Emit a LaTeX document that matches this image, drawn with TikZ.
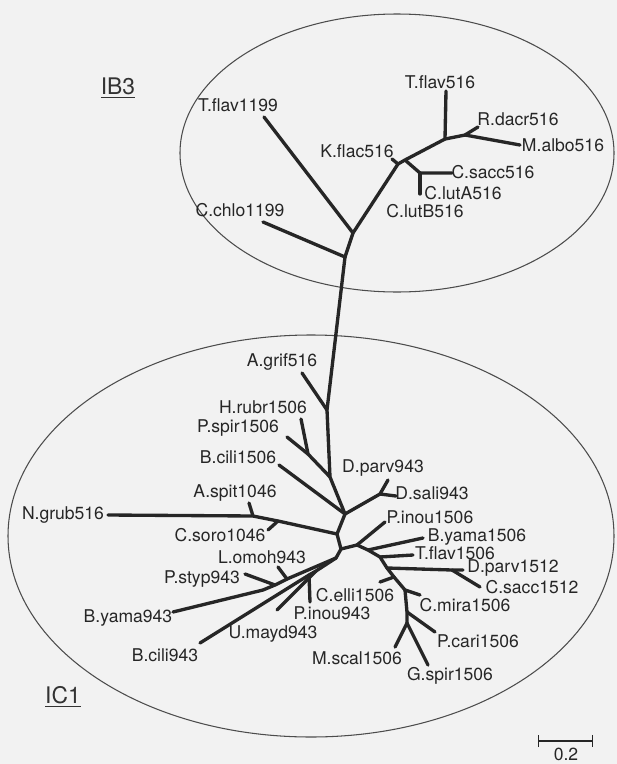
\documentclass[tikz,border=0pt]{standalone}
\usepackage{fontspec}
\setmainfont{TeX Gyre Heros}
\usetikzlibrary{arrows.meta}
\tikzset{
  partial ellipse/.style args={#1:#2:#3}{
    insert path={+ (#1:#3) arc (#1:#2:#3)}
  },
  branch/.style={line width=1.9pt, line cap=round, line join=round, black!85},
  taxon/.style={font=\fontsize{10}{12}\selectfont, inner sep=0pt, black!85},
  clade/.style={font=\fontsize{13}{15}\selectfont, inner sep=0pt, black!80},
  rim/.style={black!70, line width=0.6pt}
}

\begin{document}
\begin{tikzpicture}[x=0.02cm, y=-0.02cm]
\fill[black!5] (0,0) rectangle (617,764);
\useasboundingbox (0,0) rectangle (617,764);
\draw[rim] (397,153) [partial ellipse=0:360:217 and 139];
\draw[rim] (311,536) [partial ellipse=0:360:303 and 201];
\node[clade] (ib3) at (118,88) {\underline{IB3}};
\node[clade] (ic1) at (63,697) {\underline{IC1}};
% IB3 part
\coordinate (n1) at (345,257);
\coordinate (n2) at (353,233);
\coordinate (n3) at (398,164);
\coordinate (n4) at (405,160);
\coordinate (n5) at (420,173);
\coordinate (n6) at (445,139);
\coordinate (n7) at (465,135);
\coordinate (tChlo) at (263,222);
\coordinate (tTfl1199) at (264,117);
\coordinate (tKfla) at (392,159);
\coordinate (tCsac516) at (452,173);
\coordinate (tClut) at (420,194);
\coordinate (tTfl516) at (446,91);
\coordinate (tRdac) at (478,127);
\coordinate (tMalb) at (520,145);
\draw[branch] (tChlo) -- (n1);
\draw[branch] (tTfl1199) -- (n2);
\draw[branch] (n1) -- (n2) -- (n3) -- (n4) -- (n6) -- (n7) -- (tRdac);
\draw[branch] (n3) -- (tKfla);
\draw[branch] (n4) -- (n5) -- (tCsac516);
\draw[branch] (n5) -- (tClut);
\draw[branch] (n6) -- (tTfl516);
\draw[branch] (n7) -- (tMalb);
\node[taxon] (lChlo) at (240,210) {C.chlo1199};
\node[taxon] (lTfl1199) at (238,105) {T.flav1199};
\node[taxon] (lKfla) at (357,151) {K.flac516};
\node[taxon] (lTfl516) at (440,82) {T.flav516};
\node[taxon] (lRdac) at (518,119) {R.dacr516};
\node[taxon] (lMalb) at (563,145) {M.albo516};
\node[taxon] (lCsac516) at (493,172) {C.sacc516};
\node[taxon] (lClutA) at (463,193) {C.lutA516};
\node[taxon] (lClutB) at (425,211) {C.lutB516};
% IC1 part
\coordinate (n8) at (327,410);
\coordinate (n9) at (330,477);
\coordinate (n10) at (308,454);
\coordinate (nA) at (345,514);
\coordinate (n11) at (380,494);
\coordinate (nB) at (337,534);
\coordinate (nC) at (341,549);
\coordinate (nD) at (357,545);
\coordinate (g1) at (253,516);
\coordinate (g2) at (278,521);
\coordinate (tAgri) at (302,373);
\coordinate (tHrub) at (301,419);
\coordinate (tPspi) at (287,437);
\coordinate (tBcil1506) at (279,465);
\coordinate (tDpar943) at (388,480);
\coordinate (tDsal) at (396,496);
\coordinate (tNgru) at (108,515);
\coordinate (tAspi) at (249,503);
\coordinate (tCsor) at (268,530);
\coordinate (tPino1506) at (385,522);
\draw[branch] (n1) -- (n8) -- (n9) -- (nA) -- (nB) -- (nC) -- (nD);
\draw[branch] (n8) -- (tAgri);
\draw[branch] (n9) -- (n10) -- (tHrub);
\draw[branch] (n10) -- (tPspi);
\draw[branch] (tBcil1506) -- (nA);
\draw[branch] (nA) -- (n11) -- (tDpar943);
\draw[branch] (n11) -- (tDsal);
\draw[branch] (tNgru) -- (g1) -- (g2) -- (nB);
\draw[branch] (g1) -- (tAspi);
\draw[branch] (g2) -- (tCsor);
\draw[branch] (nD) -- (tPino1506);
% right clade
\coordinate (nE) at (368,550);
\coordinate (nF) at (380,557);
\coordinate (nG) at (387,568);
\coordinate (nH) at (452,570);
\coordinate (nI) at (394,577);
\coordinate (nJ) at (405,590);
\coordinate (nK) at (407,612);
\coordinate (nL) at (407,623);
\coordinate (tByam1506) at (423,538);
\coordinate (tTfl1506) at (413,555);
\coordinate (tDpar1512) at (463,570);
\coordinate (tCsac1512) at (480,587);
\coordinate (tCell) at (380,582);
\coordinate (tCmir) at (420,595);
\coordinate (tPcar) at (435,632);
\coordinate (tMsca) at (395,647);
\coordinate (tGspi) at (428,665);
\draw[branch] (nD) -- (nE) -- (nF) -- (nG) -- (nI) -- (nJ) -- (nK) -- (nL);
\draw[branch] (nE) -- (tByam1506);
\draw[branch] (nF) -- (tTfl1506);
\draw[branch] (nG) -- (nH) -- (tDpar1512);
\draw[branch] (nH) -- (tCsac1512);
\draw[branch] (nI) -- (tCell);
\draw[branch] (nJ) -- (tCmir);
\draw[branch] (nK) -- (tPcar);
\draw[branch] (nL) -- (tMsca);
\draw[branch] (nL) -- (tGspi);
% lower left clade
\coordinate (nS) at (336,558);
\coordinate (nR) at (263,590);
\coordinate (u1) at (287,579);
\coordinate (u2) at (275,585);
\coordinate (w1) at (316,571);
\coordinate (w2) at (309,575);
\coordinate (tLomo) at (278,567);
\coordinate (tPsty) at (245,574);
\coordinate (tByam943) at (173,612);
\coordinate (tBcil943) at (200,643);
\coordinate (tUmay) at (277,610);
\coordinate (tPino943) at (310,602);
\draw[branch] (nC) -- (nS) -- (u1) -- (u2) -- (nR) -- (tByam943);
\draw[branch] (u1) -- (tLomo);
\draw[branch] (u2) -- (tPsty);
\draw[branch] (nS) -- (w1) -- (w2) -- (tBcil943);
\draw[branch] (w1) -- (tUmay);
\draw[branch] (w2) -- (tPino943);
\node[taxon] (lAgri) at (282,362) {A.grif516};
\node[taxon] (lHrub) at (263,407) {H.rubr1506};
\node[taxon] (lPspi) at (238,428) {P.spir1506};
\node[taxon] (lBcil1506) at (238,457) {B.cili1506};
\node[taxon] (lDpar943) at (383,468) {D.parv943};
\node[taxon] (lDsal) at (432,493) {D.sali943};
\node[taxon] (lAspi) at (235,493) {A.spit1046};
\node[taxon] (lNgru) at (63,515) {N.grub516};
\node[taxon] (lCsor) at (220,535) {C.soro1046};
\node[taxon] (lPino1506) at (430,517) {P.inou1506};
\node[taxon] (lByam1506) at (477,537) {B.yama1506};
\node[taxon] (lTfl1506) at (455,553) {T.flav1506};
\node[taxon] (lLomo) at (262,557) {L.omoh943};
\node[taxon] (lDpar1512) at (513,568) {D.parv1512};
\node[taxon] (lPsty) at (202,579) {P.styp943};
\node[taxon] (lCsac1512) at (532,587) {C.sacc1512};
\node[taxon] (lCell) at (355,595) {C.elli1506};
\node[taxon] (lCmir) at (465,605) {C.mira1506};
\node[taxon] (lByam943) at (128,618) {B.yama943};
\node[taxon] (lPino943) at (332,613) {P.inou943};
\node[taxon] (lUmay) at (273,634) {U.mayd943};
\node[taxon] (lPcar) at (478,641) {P.cari1506};
\node[taxon] (lBcil943) at (165,655) {B.cili943};
\node[taxon] (lMsca) at (357,658) {M.scal1506};
\node[taxon] (lGspi) at (450,676) {G.spir1506};
% scale bar
\coordinate (s0) at (538,741);
\coordinate (s1) at (593,741);
\draw[black!85, line width=0.8pt, {Bar[width=7pt]}-{Bar[width=7pt]}] (s0) -- (s1);
\node[taxon] (lScale) at (566,754) {0.2};
\end{tikzpicture}
\end{document}
